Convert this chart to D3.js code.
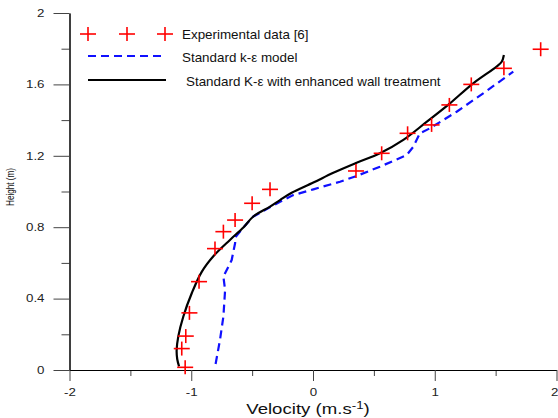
<!DOCTYPE html>
<html>
<head>
<meta charset="utf-8">
<script src="https://cdn.jsdelivr.net/npm/d3@7"></script>
<style>
  body { margin: 0; background: #fff; }
  svg { display: block; font-family: Arial, "Liberation Sans", sans-serif; }
</style>
</head>
<body>
<div id="chart"></div>
<script>
// experimental points [6]
const expVelocity = [-1.05, -1.078, -1.045, -1.015, -0.936, -0.805, -0.736, -0.64, -0.50, -0.353, 0.353, 0.564, 0.777, 0.974, 1.12, 1.30, 1.568, 1.87];
const expHeight   = [0.015, 0.12, 0.19, 0.32, 0.495, 0.68, 0.775, 0.84, 0.934, 1.012, 1.115, 1.214, 1.326, 1.373, 1.485, 1.60, 1.69, 1.797];

// standard k-e model (dashed blue)
const stdVelocity = [-0.80, -0.764, -0.736, -0.722, -0.736, -0.668, -0.64, -0.636, -0.57, -0.49, -0.271, -0.162, 0.003, 0.222, 0.358, 0.55, 0.769, 0.824, 0.878, 0.96, 1.18, 1.398, 1.645];
const stdHeight   = [0.034, 0.168, 0.30, 0.448, 0.523, 0.616, 0.71, 0.745, 0.80, 0.86, 0.943, 0.98, 1.012, 1.055, 1.087, 1.139, 1.204, 1.251, 1.326, 1.354, 1.447, 1.55, 1.671];

// standard k-e with enhanced wall treatment (solid black)
const ewtVelocity = [-1.10, -1.115, -1.12, -1.106, -1.065, -0.996, -0.914, -0.815, -0.68, -0.57, -0.49, -0.353, -0.271, -0.175, 0.003, 0.167, 0.358, 0.55, 0.742, 0.933, 1.125, 1.316, 1.508, 1.55, 1.568];
const ewtHeight   = [0.02, 0.06, 0.11, 0.19, 0.30, 0.43, 0.55, 0.64, 0.73, 0.80, 0.86, 0.915, 0.952, 0.993, 1.05, 1.105, 1.161, 1.214, 1.289, 1.39, 1.494, 1.606, 1.70, 1.727, 1.765];

const xTicks = [-2, -1, 0, 1, 2];
const xMinor = [-1.5, -0.5, 0.5, 1.5];
const yTicks = [0, 0.4, 0.8, 1.2, 1.6, 2];
const yMinor = [0.2, 0.6, 1.0, 1.4, 1.8];

const legendLabels = ["Experimental data [6]", "Standard k-\u03b5 model", "Standard K-\u03b5 with enhanced wall treatment"];

const W = 558, H = 418;
const stretch = 1.33; // the original figure is widened horizontally

const svg = d3.select("#chart").append("svg")
  .attr("width", W)
  .attr("height", H);

const x = d3.scaleLinear().domain([-2, 2]).range([69.5, 556.5]);
const y = d3.scaleLinear().domain([0, 2]).range([370, 13]);

// axes
const xAxis = d3.axisBottom(x).tickValues(xTicks).tickSize(11).tickSizeOuter(0).tickPadding(8)
  .tickFormat(d => String(d));
const xAxisMinor = d3.axisBottom(x).tickValues(xMinor).tickSize(6).tickSizeOuter(0).tickFormat("");
const yAxis = d3.axisLeft(y).tickValues(yTicks).tickSize(16).tickSizeOuter(0).tickPadding(9)
  .tickFormat(d => d === 0 || d === 2 ? String(d) : d3.format(".1f")(d));
const yAxisMinor = d3.axisLeft(y).tickValues(yMinor).tickSize(8).tickSizeOuter(0).tickFormat("");

function styleAxis(g) {
  g.selectAll("path").attr("stroke", "#000");
  g.selectAll("line").attr("stroke", "#444");
  g.selectAll("text").attr("fill", "#222").style("font-size", "10px")
    .style("font-family", "Arial, 'Liberation Sans', sans-serif")
    .each(function() {
      const w = this.getComputedTextLength();
      if (w > 0) d3.select(this).attr("textLength", w * stretch).attr("lengthAdjust", "spacingAndGlyphs");
    });
}

svg.append("g").attr("transform", "translate(0,370)").call(xAxisMinor).call(styleAxis);
const gx = svg.append("g").attr("transform", "translate(0,370)").call(xAxis).call(styleAxis);
// last label sits on the right edge, keep it inside the picture
gx.selectAll(".tick text").filter(d => d === 2).attr("text-anchor", "end").attr("x", 1.5);
svg.append("g").attr("transform", "translate(69.5,0)").call(yAxisMinor).call(styleAxis);
svg.append("g").attr("transform", "translate(69.5,0)").call(yAxis).call(styleAxis);

// axis titles
const xt = svg.append("text")
  .attr("transform", "translate(308,414) scale(" + stretch + ",1)")
  .attr("text-anchor", "middle")
  .style("font-size", "14px")
  .attr("fill", "#111");
xt.append("tspan").text("Velocity (m.s");
xt.append("tspan").attr("dy", -5).style("font-size", "10px").text("-1");
xt.append("tspan").attr("dy", 5).text(")");

svg.append("text")
  .attr("transform", "translate(14,187) rotate(-90)")
  .attr("text-anchor", "middle")
  .attr("textLength", 38)
  .attr("lengthAdjust", "spacingAndGlyphs")
  .style("font-size", "10px")
  .attr("fill", "#111")
  .text("Height (m)");

// curves
const stdData = stdVelocity.map((v, i) => [v, stdHeight[i]]);
const ewtData = ewtVelocity.map((v, i) => [v, ewtHeight[i]]);
const expData = expVelocity.map((v, i) => [v, expHeight[i]]);

const line = d3.line().x(d => x(d[0])).y(d => y(d[1]));

svg.append("path")
  .datum(stdData)
  .attr("d", line)
  .attr("fill", "none")
  .attr("stroke", "#1010ff")
  .attr("stroke-width", 2.2)
  .attr("stroke-dasharray", "8,5");

svg.append("path")
  .datum(ewtData)
  .attr("d", line.curve(d3.curveCatmullRom))
  .attr("fill", "none")
  .attr("stroke", "#000")
  .attr("stroke-width", 2.2);

// red plus markers
function plus(g, cx, cy) {
  g.append("line").attr("x1", cx - 8).attr("x2", cx + 8).attr("y1", cy).attr("y2", cy);
  g.append("line").attr("x1", cx).attr("x2", cx).attr("y1", cy - 7).attr("y2", cy + 7);
}
const markers = svg.append("g").attr("stroke", "#ff0000").attr("stroke-width", 1.6);
expData.forEach(d => plus(markers, x(d[0]), y(d[1])));

// legend
const leg = svg.append("g");
const legMarks = leg.append("g").attr("stroke", "#ff0000").attr("stroke-width", 1.6);
[88, 127, 165].forEach(cx => plus(legMarks, cx, 34));
leg.append("line").attr("x1", 88).attr("x2", 166).attr("y1", 56).attr("y2", 56)
  .attr("stroke", "#1010ff").attr("stroke-width", 2.2).attr("stroke-dasharray", "8,5");
leg.append("line").attr("x1", 88).attr("x2", 166).attr("y1", 80).attr("y2", 80)
  .attr("stroke", "#000").attr("stroke-width", 2.2);

leg.selectAll("text.lg")
  .data(legendLabels)
  .join("text")
  .attr("class", "lg")
  .attr("x", (d, i) => i === 2 ? 186 : 182)
  .attr("y", (d, i) => [34, 57, 81][i])
  .attr("dy", "0.35em")
  .style("font-size", "13.4px")
  .attr("fill", "#111")
  .text(d => d);
</script>
</body>
</html>
